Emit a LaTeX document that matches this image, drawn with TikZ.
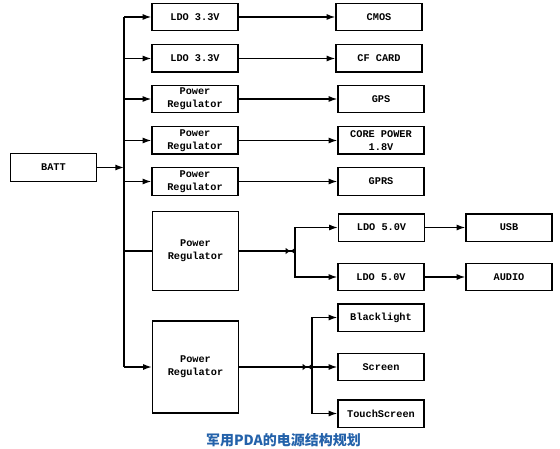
\documentclass[tikz,border=0pt]{standalone}
\usepackage{fontspec}
\setmonofont{Liberation Mono}
\newfontfamily\cjk{Noto Sans CJK SC}
\usetikzlibrary{arrows.meta}
\definecolor{capblue}{RGB}{36,98,170}

\begin{document}
\begin{tikzpicture}[
    x=0.75pt, y=-0.75pt,
    box/.style={draw, line width=1pt, minimum width=64.5pt, minimum height=20.5pt, inner sep=0pt,
        font=\ttfamily\bfseries\fontsize{7.7}{9.5}\selectfont, align=center},
    arr/.style={line width=1pt, -{Latex[length=6.5pt, width=4.5pt]}},
    bow/.style={line width=1pt, -{Latex[length=3.5pt, width=5pt] Latex[length=3.5pt, width=5pt, reversed]}},
]
\useasboundingbox (0,0) rectangle (560,449);

% Battery and bus
\node[box] (batt) at (53.5, 167.5) {BATT};
\coordinate (bus) at (124, 0);

% Regulators
\node[box] (ldoA) at (195, 17) {LDO 3.3V};
\node[box] (ldoB) at (195, 58.5) {LDO 3.3V};
\node[box] (prC) at (195, 99) {Power\\Regulator};
\node[box] (prD) at (195, 140.5) {Power\\Regulator};
\node[box] (prE) at (195, 181.5) {Power\\Regulator};
\node[box, minimum height=59.5pt] (prF) at (195.5, 251) {Power\\Regulator};
\node[box, minimum height=69pt] (prG) at (195.5, 367) {Power\\Regulator};

% Loads
\node[box] (cmos) at (379, 17) {CMOS};
\node[box] (cf) at (379, 58.5) {CF CARD};
\node[box] (gps) at (381, 99) {GPS};
\node[box] (core) at (381, 140.5) {CORE POWER\\1.8V};
\node[box] (gprs) at (381, 181.5) {GPRS};
\node[box] (ldoU) at (381.5, 227.5) {LDO 5.0V};
\node[box] (ldoV) at (381, 277) {LDO 5.0V};
\node[box] (usb) at (509, 227.5) {USB};
\node[box] (audio) at (509, 277) {AUDIO};
\node[box] (blk) at (381, 317.5) {Blacklight};
\node[box] (scr) at (381, 367) {Screen};
\node[box] (touch) at (381, 413.5) {TouchScreen};

% Caption
\node[font=\cjk\bfseries\fontsize{10.5}{12}\selectfont, text=capblue] (cap) at (283.5, 440) {军用PDA的电源结构规划};

% Bus lines
\draw[arr] (batt) -- (batt -| bus);
\draw[line width=1pt] (bus |- ldoA) -- (bus |- prG);
\foreach \n in {ldoA, ldoB, prC, prD, prE, prG}
    \draw[arr] (bus |- \n) -- (\n);
\draw[line width=1pt] (bus |- prF) -- (prF);

% Outputs
\draw[arr] (ldoA) -- (cmos);
\draw[arr] (ldoB) -- (cf);
\draw[arr] (prC) -- (gps);
\draw[arr] (prD) -- (core);
\draw[arr] (prE) -- (gprs);
\draw[arr] (ldoU) -- (usb);
\draw[arr] (ldoV) -- (audio);

% Branches
\coordinate (jF) at (295, 251);
\coordinate (jG) at (312, 367);
\draw[bow] (prF) -- (jF);
\draw[arr] (jF) |- (ldoU);
\draw[arr] (jF) |- (ldoV);
\draw[bow] (prG) -- (jG);
\draw[arr] (jG) |- (blk);
\draw[arr] (jG) -- (scr);
\draw[arr] (jG) |- (touch);

\end{tikzpicture}
\end{document}
